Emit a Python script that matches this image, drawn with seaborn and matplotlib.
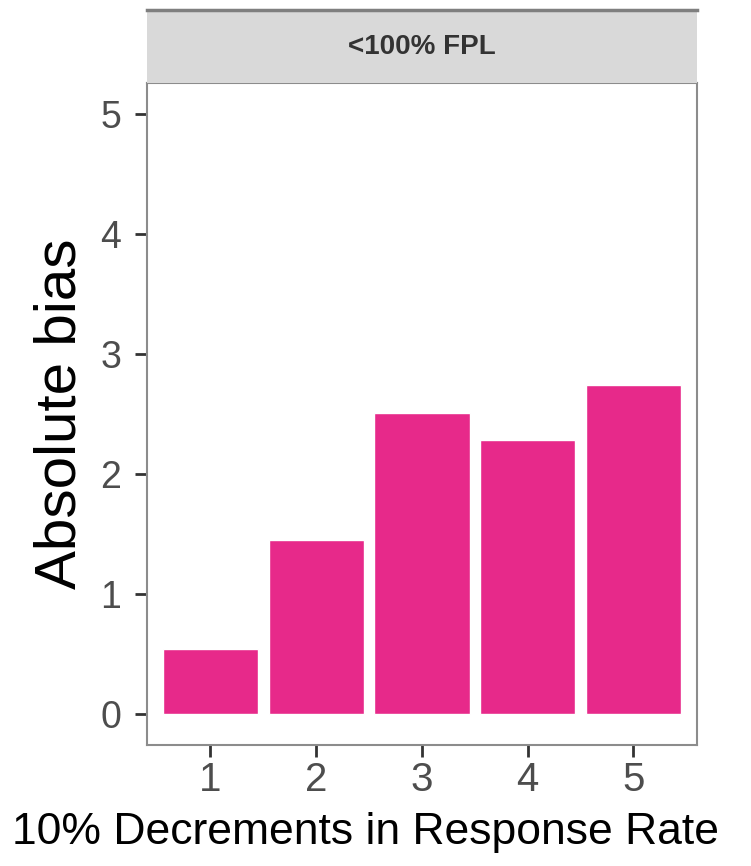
import matplotlib
matplotlib.use("Agg")
import matplotlib.pyplot as plt
import seaborn as sns
import pandas as pd

# data
decrements = ["1", "2", "3", "4", "5"]
abs_bias = [0.54, 1.45, 2.51, 2.28, 2.74]
facet_label = "<100% FPL"

df = pd.DataFrame({"decrement": decrements, "bias": abs_bias})

sns.set_style("white")
plt.rcParams["font.family"] = ["Liberation Sans", "DejaVu Sans"]

fig = plt.figure(figsize=(7.51, 8.66), dpi=100)
ax = fig.add_axes([0.1957, 0.1397, 0.7323, 0.7643])

sns.barplot(data=df, x="decrement", y="bias", color="#E7298A", saturation=1,
            width=0.9, ax=ax)

ax.set_xlim(-0.6, 4.6)
ax.set_ylim(-0.26, 5.26)
ax.set_yticks([0, 1, 2, 3, 4, 5])

ax.set_xlabel("10% Decrements in Response Rate", fontsize=32, color="black")
ax.set_ylabel("Absolute bias", fontsize=42, color="black")
ax.xaxis.set_label_coords(0.398, -0.101)
ax.yaxis.set_label_coords(-0.109, 0.5)

ax.tick_params(axis="both", bottom=True, left=True, colors="#333333",
               labelcolor="#4D4D4D", length=8.5, width=2, direction="out")
ax.tick_params(axis="x", labelsize=29, pad=3)
ax.tick_params(axis="y", labelsize=27, pad=10)

for side in ["left", "right", "top", "bottom"]:
    ax.spines[side].set_visible(True)
    ax.spines[side].set_color("#8C8C8C")
    ax.spines[side].set_linewidth(1.5)

# facet strip on top of the panel
strip = fig.add_axes([0.1957, 0.904, 0.7323, 0.0845])
strip.set_facecolor("#D9D9D9")
strip.set_xticks([])
strip.set_yticks([])
for side in ["left", "right", "bottom"]:
    strip.spines[side].set_visible(False)
strip.spines["top"].set_color("#7F7F7F")
strip.spines["top"].set_linewidth(2.5)
strip.text(0.5, 0.5, facet_label, ha="center", va="center", fontsize=20,
           fontweight="bold", color="#333333", transform=strip.transAxes)

fig.savefig("out.png", dpi=100)
